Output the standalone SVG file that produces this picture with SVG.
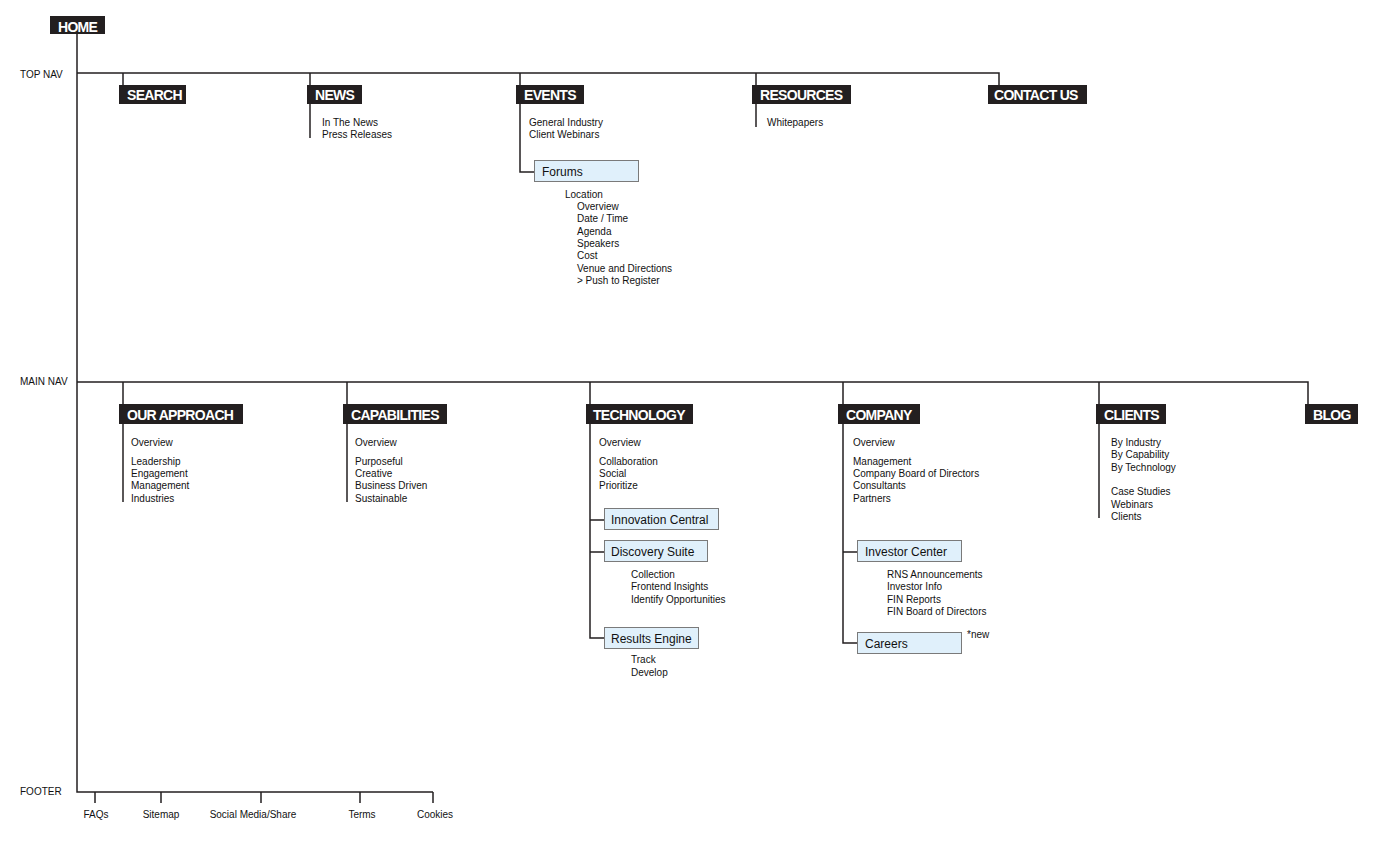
<svg xmlns="http://www.w3.org/2000/svg" width="1380" height="857" viewBox="0 0 1380 857">
<style>
.ln{stroke:#231f20;stroke-width:1.5;fill:none}
.bx{fill:#231f20}
.bt{font-family:"Liberation Sans",Arial,sans-serif;font-weight:bold;font-size:14px;fill:#fff;letter-spacing:-0.7px}
.sb{fill:#e0f0fb;stroke:#7a7a7a;stroke-width:1}
.st{font-family:"Liberation Sans",Arial,sans-serif;font-size:12px;fill:#111}
.t{font-family:"Liberation Sans",Arial,sans-serif;font-size:10px;fill:#111}
.lb{font-family:"Liberation Sans",Arial,sans-serif;font-size:10px;fill:#111}
.c{text-anchor:middle}
</style>
<rect width="1380" height="857" fill="#fff"/>
<g id="connectors">
<path class="ln" d="M77 34V792H433"/>
<path class="ln" d="M77 73H999V85"/>
<path class="ln" d="M123 73V85"/>
<path class="ln" d="M310 73V138"/>
<path class="ln" d="M520 73V172H534"/>
<path class="ln" d="M756 73V127"/>
<path class="ln" d="M77 382H1308V404"/>
<path class="ln" d="M123 382V502"/>
<path class="ln" d="M347 382V502"/>
<path class="ln" d="M590 382V638H604M590 520H604M590 552H604"/>
<path class="ln" d="M843 382V643H857M843 552H857"/>
<path class="ln" d="M1099 382V518"/>
<path class="ln" d="M95 792V803M161 792V803M261 792V803M360 792V803M433 792V803"/>
</g>
<g id="labels">
<text class="lb" x="20" y="78">TOP NAV</text>
<text class="lb" x="20" y="385">MAIN NAV</text>
<text class="lb" x="20" y="795">FOOTER</text>
</g>
<g id="home"><rect class="bx" x="50" y="16" width="55" height="18"/><text class="bt" x="58" y="31.5">HOME</text></g>
<g id="search"><rect class="bx" x="119" y="85" width="67" height="19"/><text class="bt" x="127" y="100">SEARCH</text></g>
<g id="news"><rect class="bx" x="307" y="85" width="55" height="19"/><text class="bt" x="315" y="100">NEWS</text>
<text class="t" x="322" y="126">In The News</text><text class="t" x="322" y="138">Press Releases</text></g>
<g id="events"><rect class="bx" x="516" y="85" width="68" height="19"/><text class="bt" x="524" y="100">EVENTS</text>
<text class="t" x="529" y="126">General Industry</text><text class="t" x="529" y="138">Client Webinars</text></g>
<g id="forums"><rect class="sb" x="534.5" y="160.5" width="104" height="21"/><text class="st" x="542" y="176">Forums</text>
<text class="t" x="565" y="198">Location</text>
<text class="t" x="577" y="210">Overview</text>
<text class="t" x="577" y="222">Date / Time</text>
<text class="t" x="577" y="235">Agenda</text>
<text class="t" x="577" y="247">Speakers</text>
<text class="t" x="577" y="259">Cost</text>
<text class="t" x="577" y="272">Venue and Directions</text>
<text class="t" x="577" y="284">&gt; Push to Register</text></g>
<g id="resources"><rect class="bx" x="752" y="85" width="99" height="19"/><text class="bt" x="760" y="100">RESOURCES</text>
<text class="t" x="767" y="126">Whitepapers</text></g>
<g id="contact"><rect class="bx" x="988" y="85" width="99" height="19"/><text class="bt" x="994" y="100">CONTACT US</text></g>
<g id="approach"><rect class="bx" x="119" y="404" width="124" height="20"/><text class="bt" x="127" y="419.5">OUR APPROACH</text>
<text class="t" x="131" y="446">Overview</text>
<text class="t" x="131" y="465">Leadership</text>
<text class="t" x="131" y="477">Engagement</text>
<text class="t" x="131" y="489">Management</text>
<text class="t" x="131" y="502">Industries</text></g>
<g id="capabilities"><rect class="bx" x="343" y="404" width="104" height="20"/><text class="bt" x="351" y="419.5">CAPABILITIES</text>
<text class="t" x="355" y="446">Overview</text>
<text class="t" x="355" y="465">Purposeful</text>
<text class="t" x="355" y="477">Creative</text>
<text class="t" x="355" y="489">Business Driven</text>
<text class="t" x="355" y="502">Sustainable</text></g>
<g id="technology"><rect class="bx" x="586" y="404" width="107" height="20"/><text class="bt" x="593" y="419.5">TECHNOLOGY</text>
<text class="t" x="599" y="446">Overview</text>
<text class="t" x="599" y="465">Collaboration</text>
<text class="t" x="599" y="477">Social</text>
<text class="t" x="599" y="489">Prioritize</text></g>
<g id="innovation"><rect class="sb" x="604.5" y="508.5" width="114" height="21"/><text class="st" x="611" y="524">Innovation Central</text></g>
<g id="discovery"><rect class="sb" x="604.5" y="540.5" width="103" height="21"/><text class="st" x="611" y="556">Discovery Suite</text>
<text class="t" x="631" y="578">Collection</text>
<text class="t" x="631" y="590">Frontend Insights</text>
<text class="t" x="631" y="603">Identify Opportunities</text></g>
<g id="results"><rect class="sb" x="604.5" y="627.5" width="94" height="21"/><text class="st" x="611" y="643">Results Engine</text>
<text class="t" x="631" y="663">Track</text>
<text class="t" x="631" y="676">Develop</text></g>
<g id="company"><rect class="bx" x="838" y="404" width="82" height="20"/><text class="bt" x="846" y="419.5">COMPANY</text>
<text class="t" x="853" y="446">Overview</text>
<text class="t" x="853" y="465">Management</text>
<text class="t" x="853" y="477">Company Board of Directors</text>
<text class="t" x="853" y="489">Consultants</text>
<text class="t" x="853" y="502">Partners</text></g>
<g id="investor"><rect class="sb" x="857.5" y="540.5" width="104" height="21"/><text class="st" x="865" y="556">Investor Center</text>
<text class="t" x="887" y="578">RNS Announcements</text>
<text class="t" x="887" y="590">Investor Info</text>
<text class="t" x="887" y="603">FIN Reports</text>
<text class="t" x="887" y="615">FIN Board of Directors</text></g>
<g id="careers"><rect class="sb" x="857.5" y="632.5" width="104" height="21"/><text class="st" x="865" y="648">Careers</text>
<text class="t" x="967" y="638">*new</text></g>
<g id="clients"><rect class="bx" x="1096" y="404" width="70" height="20"/><text class="bt" x="1104" y="419.5">CLIENTS</text>
<text class="t" x="1111" y="446">By Industry</text>
<text class="t" x="1111" y="458">By Capability</text>
<text class="t" x="1111" y="471">By Technology</text>
<text class="t" x="1111" y="495">Case Studies</text>
<text class="t" x="1111" y="508">Webinars</text>
<text class="t" x="1111" y="520">Clients</text></g>
<g id="blog"><rect class="bx" x="1305" y="404" width="53" height="20"/><text class="bt" x="1313" y="419.5">BLOG</text></g>
<g id="footer">
<text class="t c" x="96" y="818">FAQs</text>
<text class="t c" x="161" y="818">Sitemap</text>
<text class="t c" x="253" y="818">Social Media/Share</text>
<text class="t c" x="362" y="818">Terms</text>
<text class="t c" x="435" y="818">Cookies</text>
</g>
</svg>
